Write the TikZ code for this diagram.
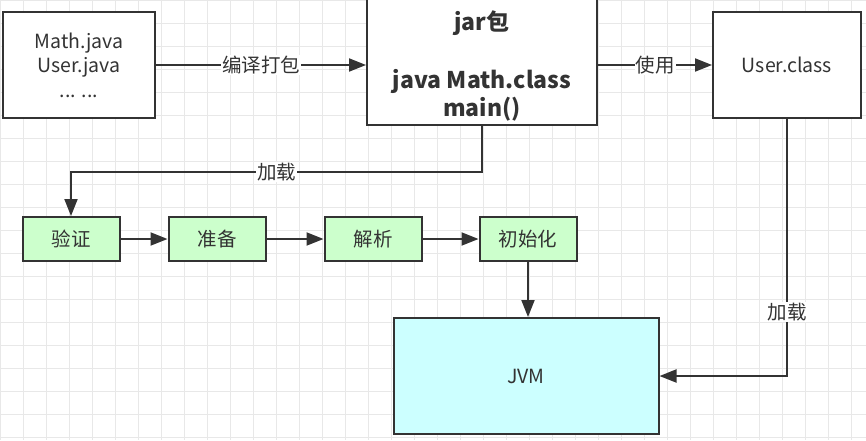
\documentclass[tikz,border=0pt]{standalone}
\usepackage{fontspec}
\setmainfont{Noto Sans CJK SC}
\usepackage{xcolor}
\usetikzlibrary{arrows.meta}

\definecolor{inkgray}{HTML}{333333}
\definecolor{gridgray}{HTML}{E8E8E8}
\definecolor{stagegreen}{HTML}{CCFFCC}
\definecolor{jvmcyan}{HTML}{CCFFFF}

\begin{document}
\begin{tikzpicture}[x=1pt,y=-1pt,>={Triangle[length=17pt,width=13pt]},
  font=\fontsize{19.5}{24.5}\selectfont,
  box/.style={draw=inkgray,line width=2pt,fill=white,text=inkgray,align=center,inner sep=0pt},
  stage/.style={box,fill=stagegreen,minimum width=97pt,minimum height=44pt},
  lbl/.style={fill=white,text=inkgray,inner sep=1pt},
  link/.style={draw=inkgray,line width=2pt,->}]
  \useasboundingbox (0,0) rectangle (866,440);
  \clip (0,0) rectangle (866,440);
  \fill[white] (0,0) rectangle (866,440);
  \draw[gridgray,line width=1pt,step=23pt] (0,0) grid (866,440);

  \node[box,minimum width=152pt,minimum height=106pt] (src) at (79,65) {Math.java\\User.java\\... ...};
  \node[box,minimum width=230pt,minimum height=128pt] (jar) at (482,61) {};
  \node[text=inkgray,align=center,font=\fontsize{23}{28}\selectfont\bfseries] (jartext) at (482,66)
    {jar包\\[30pt]java Math.class\\main()};
  \node[box,minimum width=148pt,minimum height=106pt] (user) at (787,65) {User.class};

  \node[stage] (verify)  at (71,239)  {验证};
  \node[stage] (prepare) at (217,239) {准备};
  \node[stage] (resolve) at (373,239) {解析};
  \node[stage] (init)    at (528,239) {初始化};

  \node[box,fill=jvmcyan,minimum width=265pt,minimum height=116pt] (jvm) at (526,376) {JVM};

  \coordinate (bend) at (482,172);

  \draw[link] (src) -- node[lbl] {编译打包} (src.east -| jar.west);
  \draw[link] (jar.east |- user) -- node[lbl] {使用} (user);
  \draw[link] (jar.south) -- (bend) -| node[lbl,pos=0.25] {加载} (verify.north);
  \draw[link] (verify) -- (prepare);
  \draw[link] (prepare) -- (resolve);
  \draw[link] (resolve) -- (init);
  \draw[link] (init.south) -- (init.south |- jvm.north);
  \draw[link] (user.south) |- node[lbl,pos=0.375] {加载} (jvm.east);
\end{tikzpicture}
\end{document}
